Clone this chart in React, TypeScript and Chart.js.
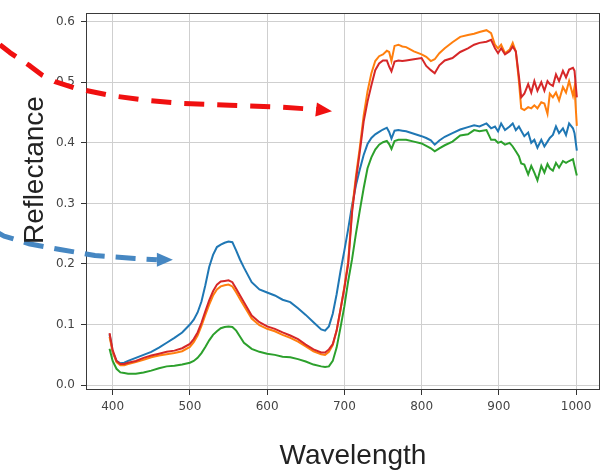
import React, { useEffect, useRef } from "react";
import { Chart, registerables } from "chart.js";

Chart.register(...registerables);

// ---- Data ----
const wavelengths = [
  396, 400, 405, 410, 415, 420, 430, 440, 450, 460,
  470, 480, 490, 500, 505, 510, 515, 520, 525, 530,
  535, 540, 545, 550, 555, 560, 565, 570, 580, 590,
  600, 610, 620, 630, 640, 650, 660, 670, 675, 680,
  685, 690, 695, 700, 705, 710, 715, 720, 725, 730,
  735, 740, 745, 750, 755, 758, 761, 765, 770, 775,
  780, 790, 800, 806, 812, 817, 823, 830, 840, 850,
  860, 868, 875, 884, 890, 895, 899, 903, 908, 914,
  918, 922, 926, 929, 933, 938, 942, 946, 950, 955,
  959, 963, 966, 970, 974, 978, 983, 987, 991, 996,
  998, 1001,
];

const blueSeries = [
  0.084, 0.055, 0.040, 0.036, 0.037, 0.040, 0.045, 0.050, 0.055, 0.062,
  0.070, 0.078, 0.087, 0.100, 0.108, 0.120, 0.138, 0.165, 0.195, 0.215,
  0.228, 0.232, 0.235, 0.237, 0.236, 0.222, 0.207, 0.194, 0.170, 0.158,
  0.153, 0.148, 0.141, 0.137, 0.127, 0.116, 0.104, 0.092, 0.090, 0.097,
  0.118, 0.150, 0.188, 0.222, 0.258, 0.297, 0.330, 0.356, 0.380, 0.398,
  0.408, 0.414, 0.418, 0.422, 0.425, 0.418, 0.407, 0.420, 0.421, 0.420,
  0.419, 0.415, 0.411, 0.408, 0.404, 0.397, 0.404, 0.410, 0.416, 0.422,
  0.426, 0.429, 0.427, 0.432, 0.424, 0.427, 0.419, 0.432, 0.421, 0.427,
  0.432, 0.421, 0.427, 0.420, 0.411, 0.417, 0.400, 0.405, 0.392, 0.405,
  0.394, 0.402, 0.408, 0.413, 0.427, 0.416, 0.424, 0.413, 0.432, 0.424,
  0.416, 0.387,
];

const orangeSeries = [
  0.080, 0.055, 0.038, 0.033, 0.033, 0.035, 0.038, 0.042, 0.046, 0.049,
  0.051, 0.053, 0.056, 0.063, 0.071, 0.082, 0.098, 0.116, 0.133, 0.148,
  0.158, 0.163, 0.165, 0.166, 0.163, 0.153, 0.142, 0.131, 0.110, 0.099,
  0.093, 0.089, 0.083, 0.078, 0.072, 0.064, 0.056, 0.051, 0.050, 0.055,
  0.066, 0.090, 0.124, 0.162, 0.205, 0.290, 0.345, 0.392, 0.445, 0.485,
  0.515, 0.535, 0.543, 0.546, 0.552, 0.550, 0.535, 0.560, 0.562, 0.559,
  0.558, 0.551, 0.546, 0.542, 0.535, 0.538, 0.548, 0.556, 0.566, 0.575,
  0.578, 0.580, 0.583, 0.586, 0.581, 0.562, 0.556, 0.562, 0.548, 0.554,
  0.565, 0.551, 0.502, 0.457, 0.454, 0.459, 0.457, 0.462, 0.457, 0.467,
  0.465, 0.448, 0.481, 0.475, 0.483, 0.470, 0.492, 0.483, 0.502, 0.478,
  0.492, 0.428,
];

const greenSeries = [
  0.060, 0.040, 0.027, 0.021, 0.020, 0.019, 0.019, 0.021, 0.024, 0.028,
  0.031, 0.032, 0.034, 0.037, 0.040, 0.045, 0.053, 0.063, 0.074, 0.083,
  0.089, 0.094, 0.096, 0.097, 0.096, 0.090, 0.080, 0.070, 0.060, 0.055,
  0.052, 0.050, 0.047, 0.046, 0.043, 0.039, 0.034, 0.031, 0.030, 0.031,
  0.040, 0.062, 0.095, 0.130, 0.172, 0.208, 0.250, 0.288, 0.325, 0.358,
  0.376, 0.389, 0.397, 0.401, 0.403, 0.398, 0.390, 0.403, 0.405, 0.405,
  0.405, 0.402, 0.399, 0.395, 0.391, 0.386, 0.391, 0.396, 0.402, 0.412,
  0.414, 0.421, 0.419, 0.421, 0.405, 0.405, 0.400, 0.402, 0.397, 0.400,
  0.394, 0.386, 0.378, 0.366, 0.364, 0.348, 0.362, 0.351, 0.338, 0.362,
  0.351, 0.365, 0.358, 0.354, 0.367, 0.359, 0.370, 0.367, 0.370, 0.373,
  0.362, 0.346,
];

const redSeries = [
  0.086, 0.058, 0.040, 0.035, 0.035, 0.037, 0.040, 0.045, 0.049, 0.052,
  0.055, 0.057, 0.061, 0.068, 0.076, 0.087, 0.103, 0.122, 0.140, 0.155,
  0.166, 0.171, 0.172, 0.173, 0.170, 0.159, 0.148, 0.137, 0.115, 0.104,
  0.097, 0.093, 0.087, 0.082, 0.076, 0.067, 0.059, 0.054, 0.054, 0.059,
  0.068, 0.090, 0.125, 0.160, 0.200, 0.285, 0.338, 0.385, 0.435, 0.468,
  0.495, 0.520, 0.531, 0.536, 0.536, 0.526, 0.518, 0.534, 0.536, 0.535,
  0.536, 0.538, 0.540, 0.527, 0.520, 0.515, 0.528, 0.536, 0.540, 0.550,
  0.556, 0.562, 0.565, 0.567, 0.570, 0.556, 0.548, 0.556, 0.546, 0.551,
  0.559, 0.551, 0.510, 0.475, 0.481, 0.497, 0.483, 0.502, 0.486, 0.500,
  0.486, 0.502, 0.497, 0.494, 0.513, 0.502, 0.519, 0.508, 0.521, 0.524,
  0.519, 0.475,
];

const xTickValues = [400, 500, 600, 700, 800, 900, 1000];
const yTickValues = [0.0, 0.1, 0.2, 0.3, 0.4, 0.5, 0.6];
const xTitle = "Wavelength";
const yTitle = "Reflectance";

// Annotation arrows (in data units: wavelength, reflectance)
const redArrowX = [254, 267, 280, 293, 308.5, 325.4, 352.5, 397.8, 444.4, 490.9, 551.7, 616.4, 664.3];
const redArrowY = [0.562, 0.549, 0.538, 0.527, 0.512, 0.501, 0.49, 0.478, 0.47, 0.465, 0.462, 0.459, 0.455];
const redArrowTip = [684, 0.452];
const blueArrowX = [247.8, 259.4, 293, 331.8, 377.1, 428.8, 457.3];
const blueArrowY = [0.254, 0.246, 0.233, 0.224, 0.214, 0.209, 0.207];
const blueArrowTip = [478, 0.207];

const toPoints = (ys: number[]) => wavelengths.map((w, i) => ({ x: w, y: ys[i] }));

export default function App() {
  const ref = useRef<HTMLCanvasElement | null>(null);

  useEffect(() => {
    if (!ref.current) return;

    const drawArrow = (chart: any, xs: number[], ys: number[], tip: number[], color: string, dash: number[], width: number, headLen: number, headHalf: number) => {
      const ctx = chart.ctx;
      const sx = chart.scales.x;
      const sy = chart.scales.y;
      const pts = xs.map((x, i) => [sx.getPixelForValue(x), sy.getPixelForValue(ys[i])]);
      const tp = [sx.getPixelForValue(tip[0]), sy.getPixelForValue(tip[1])];
      ctx.save();
      ctx.strokeStyle = color;
      ctx.lineWidth = width;
      ctx.lineCap = "butt";
      ctx.lineJoin = "round";
      ctx.setLineDash(dash);
      ctx.beginPath();
      pts.forEach((p, i) => (i === 0 ? ctx.moveTo(p[0], p[1]) : ctx.lineTo(p[0], p[1])));
      ctx.stroke();
      ctx.setLineDash([]);
      const last = pts[pts.length - 1];
      const ang = Math.atan2(tp[1] - last[1], tp[0] - last[0]);
      const bx = tp[0] - headLen * Math.cos(ang);
      const by = tp[1] - headLen * Math.sin(ang);
      ctx.fillStyle = color;
      ctx.beginPath();
      ctx.moveTo(tp[0], tp[1]);
      ctx.lineTo(bx + headHalf * Math.sin(ang), by - headHalf * Math.cos(ang));
      ctx.lineTo(bx - headHalf * Math.sin(ang), by + headHalf * Math.cos(ang));
      ctx.closePath();
      ctx.fill();
      ctx.restore();
    };

    const overlay = {
      id: "overlay",
      afterDatasetsDraw(chart: any) {
        const { ctx, chartArea: a } = chart;
        ctx.save();
        ctx.strokeStyle = "#3a3a3a";
        ctx.lineWidth = 1;
        ctx.strokeRect(Math.round(a.left) + 0.5, Math.round(a.top) + 0.5, Math.round(a.right - a.left) - 1, Math.round(a.bottom - a.top) - 1);
        ctx.restore();
      },
      afterDraw(chart: any) {
        const ctx = chart.ctx;
        drawArrow(chart, redArrowX, redArrowY, redArrowTip, "#f01010", [20, 13], 5, 16, 7);
        drawArrow(chart, blueArrowX, blueArrowY, blueArrowTip, "#4687c2", [20, 11], 5, 16, 7);
        ctx.save();
        ctx.fillStyle = "#222";
        ctx.font = '28px "Liberation Sans", Arial, sans-serif';
        ctx.textAlign = "center";
        ctx.textBaseline = "alphabetic";
        ctx.fillText(xTitle, 353, 464);
        ctx.translate(43, 170);
        ctx.rotate(-Math.PI / 2);
        ctx.fillText(yTitle, 0, 0);
        ctx.restore();
      },
    };

    const tickFont = { family: '"DejaVu Sans", sans-serif', size: 12 };

    const chart = new Chart(ref.current, {
      type: "line",
      data: {
        datasets: [
          { label: "red", data: toPoints(redSeries), borderColor: "#d62728", order: 0 },
          { label: "green", data: toPoints(greenSeries), borderColor: "#2ca02c", order: 1 },
          { label: "orange", data: toPoints(orangeSeries), borderColor: "#ff7f0e", order: 2 },
          { label: "blue", data: toPoints(blueSeries), borderColor: "#1f77b4", order: 3 },
        ].map((d) => ({ ...d, borderWidth: 2, pointRadius: 0, tension: 0, fill: false })),
      },
      options: {
        animation: false,
        responsive: false,
        devicePixelRatio: 1,
        layout: { padding: { top: 6, right: 7, left: 0, bottom: 0 } },
        plugins: { legend: { display: false }, tooltip: { enabled: false } },
        scales: {
          x: {
            type: "linear",
            min: 365.5,
            max: 1031,
            afterBuildTicks: (s: any) => {
              s.ticks = xTickValues.map((v) => ({ value: v }));
            },
            afterFit: (s: any) => {
              s.height = 86;
            },
            grid: { color: "#cfcfcf", lineWidth: 1, drawTicks: true, tickLength: 5, tickColor: "#333", tickWidth: 1 },
            border: { display: false },
            ticks: { font: tickFont, color: "#444", padding: 5, maxRotation: 0, autoSkip: false, callback: (v: any) => String(v) },
          },
          y: {
            type: "linear",
            min: -0.008,
            max: 0.614,
            afterBuildTicks: (s: any) => {
              s.ticks = yTickValues.map((v) => ({ value: v }));
            },
            afterFit: (s: any) => {
              s.width = 86;
            },
            grid: { color: "#cfcfcf", lineWidth: 1, drawTicks: true, tickLength: 5, tickColor: "#333", tickWidth: 1 },
            border: { display: false },
            ticks: { font: tickFont, color: "#444", padding: 6, autoSkip: false, callback: (v: any) => Number(v).toFixed(1) },
          },
        },
      },
      plugins: [overlay],
    } as any);

    return () => chart.destroy();
  }, []);

  return (
    <div style={{ position: "absolute", left: 0, top: 0, width: 607, height: 476, background: "#fff" }}>
      <canvas ref={ref} width={607} height={476} style={{ display: "block", width: 607, height: 476 }} />
    </div>
  );
}
